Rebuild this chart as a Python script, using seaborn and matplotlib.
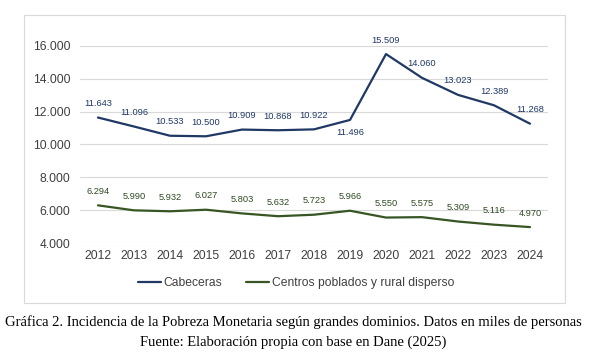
import pandas as pd
import matplotlib
matplotlib.use("Agg")
import matplotlib.pyplot as plt
from matplotlib.patches import Rectangle
from matplotlib.ticker import FuncFormatter
import seaborn as sns

# Data (miles de personas)
years = [2012, 2013, 2014, 2015, 2016, 2017, 2018, 2019, 2020, 2021, 2022, 2023, 2024]
cabeceras = [11643, 11096, 10533, 10500, 10909, 10868, 10922, 11496, 15509, 14060, 13023, 12389, 11268]
rural = [6294, 5990, 5932, 6027, 5803, 5632, 5723, 5966, 5550, 5575, 5309, 5116, 4970]
series_names = ["Cabeceras", "Centros poblados y rural disperso"]
y_ticks = [4000, 6000, 8000, 10000, 12000, 14000, 16000]

caption_1 = "Gráfica 2. Incidencia de la Pobreza Monetaria según grandes dominios. Datos en miles de personas"
caption_2 = "Fuente: Elaboración propia con base en Dane (2025)"

colors = ["#1F3864", "#375623"]
label_colors = ["#1F3864", "#2F4A22"]


def miles(v, pos=None):
    return f"{int(round(v)):,}".replace(",", ".")


df = pd.DataFrame({
    "idx": list(range(len(years))) * 2,
    "valor": cabeceras + rural,
    "serie": [series_names[0]] * len(years) + [series_names[1]] * len(years),
})

sns.set_style("white")
plt.rcParams["font.family"] = ["Liberation Sans", "DejaVu Sans"]

W, H = 593, 356
fig = plt.figure(figsize=(W / 100, H / 100), dpi=100)
ax = fig.add_axes([80 / W, (H - 243) / H, (548 - 80) / W, (243 - 46) / H])

sns.lineplot(data=df, x="idx", y="valor", hue="serie", palette=colors,
             linewidth=1.6, ax=ax, legend=True)

ax.set_xlim(-0.5, len(years) - 0.5)
ax.set_ylim(4000, 16000)
ax.set_yticks(y_ticks)
ax.yaxis.set_major_formatter(FuncFormatter(miles))
ax.set_xticks(range(len(years)))
ax.set_xticklabels([str(y) for y in years])
ax.tick_params(axis="both", length=0, labelsize=8.7, colors="#404040")
ax.tick_params(axis="y", pad=7)
ax.tick_params(axis="x", pad=5)
ax.grid(axis="y", color="#D9D9D9", linewidth=0.8)
for s in ax.spines.values():
    s.set_visible(False)
ax.set_xlabel("")
ax.set_ylabel("")

# data labels
for vals, col in zip([cabeceras, rural], label_colors):
    for i, v in enumerate(vals):
        off = 10
        if vals is cabeceras and years[i] == 2019:
            off = -9
        ax.annotate(miles(v), (i, v), xytext=(0, off), textcoords="offset points",
                    ha="center", va="center", fontsize=6.7, color=col)

handles, labels = ax.get_legend_handles_labels()
ax.legend(handles, labels, loc="center", bbox_to_anchor=(296 / W, (H - 283) / H),
          bbox_transform=fig.transFigure, ncol=2, frameon=False, fontsize=8.7,
          handlelength=1.9, handletextpad=0.2, columnspacing=2.0,
          labelcolor="#404040")

# chart border
fig.patches.append(Rectangle((24 / W, (H - 303) / H), (565 - 24) / W, (303 - 15) / H,
                             transform=fig.transFigure, fill=False,
                             edgecolor="#D9D9D9", linewidth=0.8))

fig.text(293 / W, (H - 322) / H, caption_1, ha="center", va="center",
         fontsize=10.5, family=["Liberation Serif", "DejaVu Serif"], color="black")
fig.text(293 / W, (H - 342) / H, caption_2, ha="center", va="center",
         fontsize=10.5, family=["Liberation Serif", "DejaVu Serif"], color="black")

fig.savefig("out.png", dpi=100)
